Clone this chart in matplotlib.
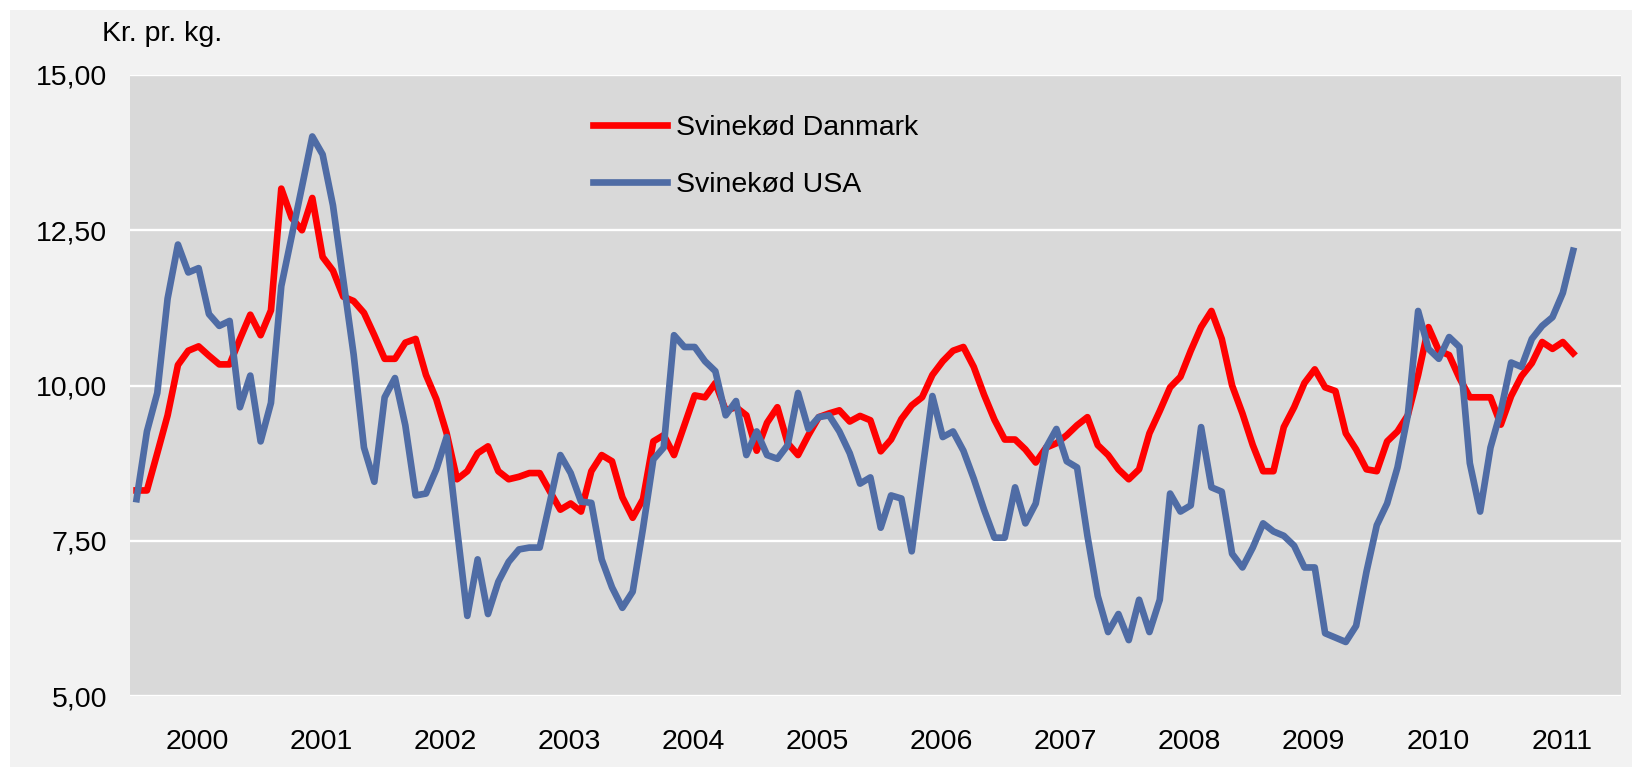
import numpy as np
import matplotlib
matplotlib.use("Agg")
import matplotlib.pyplot as plt
from matplotlib.patches import Rectangle

# Monthly prices, Jan 2000 - Aug 2011 (kr. pr. kg.)
years = [str(y) for y in range(2000, 2012)]

danmark = [8.31, 8.31, 8.91, 9.52, 10.33, 10.56, 10.63, 10.48, 10.34, 10.34, 10.75, 11.14,
           10.81, 11.21, 13.17, 12.70, 12.50, 13.02, 12.07, 11.85, 11.43, 11.36, 11.17, 10.81,
           10.43, 10.43, 10.69, 10.75, 10.17, 9.78, 9.23, 8.49, 8.62, 8.91, 9.02, 8.62,
           8.49, 8.53, 8.59, 8.59, 8.29, 8.00, 8.10, 7.97, 8.62, 8.88, 8.78, 8.20,
           7.87, 8.17, 9.10, 9.20, 8.88, 9.36, 9.84, 9.81, 10.04, 9.60, 9.65, 9.52,
           8.95, 9.40, 9.65, 9.07, 8.88, 9.20, 9.49, 9.55, 9.60, 9.42, 9.51, 9.44,
           8.94, 9.13, 9.46, 9.68, 9.81, 10.17, 10.39, 10.56, 10.62, 10.30, 9.85, 9.45,
           9.13, 9.13, 8.97, 8.76, 9.00, 9.07, 9.20, 9.36, 9.49, 9.04, 8.88, 8.65,
           8.49, 8.65, 9.23, 9.59, 9.97, 10.14, 10.56, 10.94, 11.20, 10.75, 10.00, 9.55,
           9.04, 8.62, 8.62, 9.33, 9.65, 10.04, 10.26, 9.97, 9.91, 9.23, 8.97, 8.65,
           8.62, 9.10, 9.26, 9.52, 10.17, 10.94, 10.56, 10.49, 10.12, 9.81, 9.81, 9.81,
           9.37, 9.83, 10.15, 10.36, 10.70, 10.59, 10.70, 10.52]

usa = [8.17, 9.26, 9.88, 11.40, 12.27, 11.82, 11.89, 11.15, 10.96, 11.04, 9.65, 10.16,
       9.10, 9.72, 11.60, 12.40, 13.20, 14.01, 13.72, 12.90, 11.70, 10.50, 9.00, 8.45,
       9.81, 10.12, 9.36, 8.23, 8.26, 8.65, 9.17, 7.70, 6.29, 7.20, 6.32, 6.84,
       7.16, 7.36, 7.39, 7.39, 8.13, 8.88, 8.59, 8.13, 8.11, 7.20, 6.75, 6.42,
       6.68, 7.70, 8.81, 9.00, 10.81, 10.62, 10.62, 10.39, 10.23, 9.52, 9.75, 8.88,
       9.26, 8.88, 8.82, 9.04, 9.88, 9.30, 9.49, 9.52, 9.26, 8.91, 8.42, 8.52,
       7.71, 8.23, 8.18, 7.33, 8.59, 9.83, 9.17, 9.26, 8.95, 8.50, 8.00, 7.55,
       7.55, 8.36, 7.78, 8.10, 9.00, 9.30, 8.78, 8.68, 7.58, 6.61, 6.03, 6.32,
       5.90, 6.55, 6.03, 6.55, 8.26, 7.97, 8.07, 9.33, 8.36, 8.29, 7.29, 7.07,
       7.39, 7.78, 7.65, 7.58, 7.42, 7.07, 7.07, 6.01, 5.94, 5.87, 6.13, 7.00,
       7.75, 8.10, 8.68, 9.52, 11.20, 10.59, 10.43, 10.78, 10.62, 8.75, 7.97, 9.00,
       9.59, 10.37, 10.30, 10.75, 10.96, 11.10, 11.49, 12.17]

yticks = [5, 7.5, 10, 12.5, 15]

plt.rcParams['font.family'] = ['Liberation Sans', 'DejaVu Sans']

months = np.arange(len(danmark))

W, H = 1633, 767
fig = plt.figure(figsize=(W / 100, H / 100), dpi=100, facecolor='white')
# light grey chart area with a thin white margin top/left
fig.patches.append(Rectangle((10 / W, 0), 1, 1 - 10 / H, transform=fig.transFigure,
                             facecolor='#F2F2F2', edgecolor='none', zorder=-10))

ax = fig.add_axes([130.4 / W, 71 / H, (1620.7 - 130.4) / W, 621 / H])
ax.set_facecolor('#D9D9D9')

ax.plot(months, danmark, color='#FF0000', lw=4.8, solid_joinstyle='round',
        label='Svinekød Danmark')
ax.plot(months, usa, color='#4F6CA5', lw=4.8, solid_joinstyle='round',
        label='Svinekød USA')

ax.set_ylim(5, 15)
ax.set_yticks(yticks)
ax.set_yticklabels([f"{v:.2f}".replace('.', ',') for v in yticks])
ax.set_xlim(-0.6, 143.6)
ax.set_xticks([5.9 + 12 * i for i in range(len(years))])
ax.set_xticklabels(years)

ax.grid(axis='y', color='white', lw=1.7)
ax.set_axisbelow(True)
for s in ax.spines.values():
    s.set_visible(False)
ax.tick_params(axis='both', length=0, labelsize=20.5)
ax.tick_params(axis='y', pad=16.8)
ax.tick_params(axis='x', pad=23.5)

fig.text(102 / W, 1 - 34 / H, 'Kr. pr. kg.', fontsize=20.5, ha='left', va='center')

ax.legend(loc='upper left', bbox_to_anchor=(592.9 / W, 1 - 115 / H),
          bbox_transform=fig.transFigure, frameon=False, fontsize=20.5,
          borderpad=0, borderaxespad=0, handlelength=2.59, handletextpad=0.34,
          labelspacing=1.1)

fig.savefig('out.png', dpi=100, facecolor=fig.get_facecolor())
